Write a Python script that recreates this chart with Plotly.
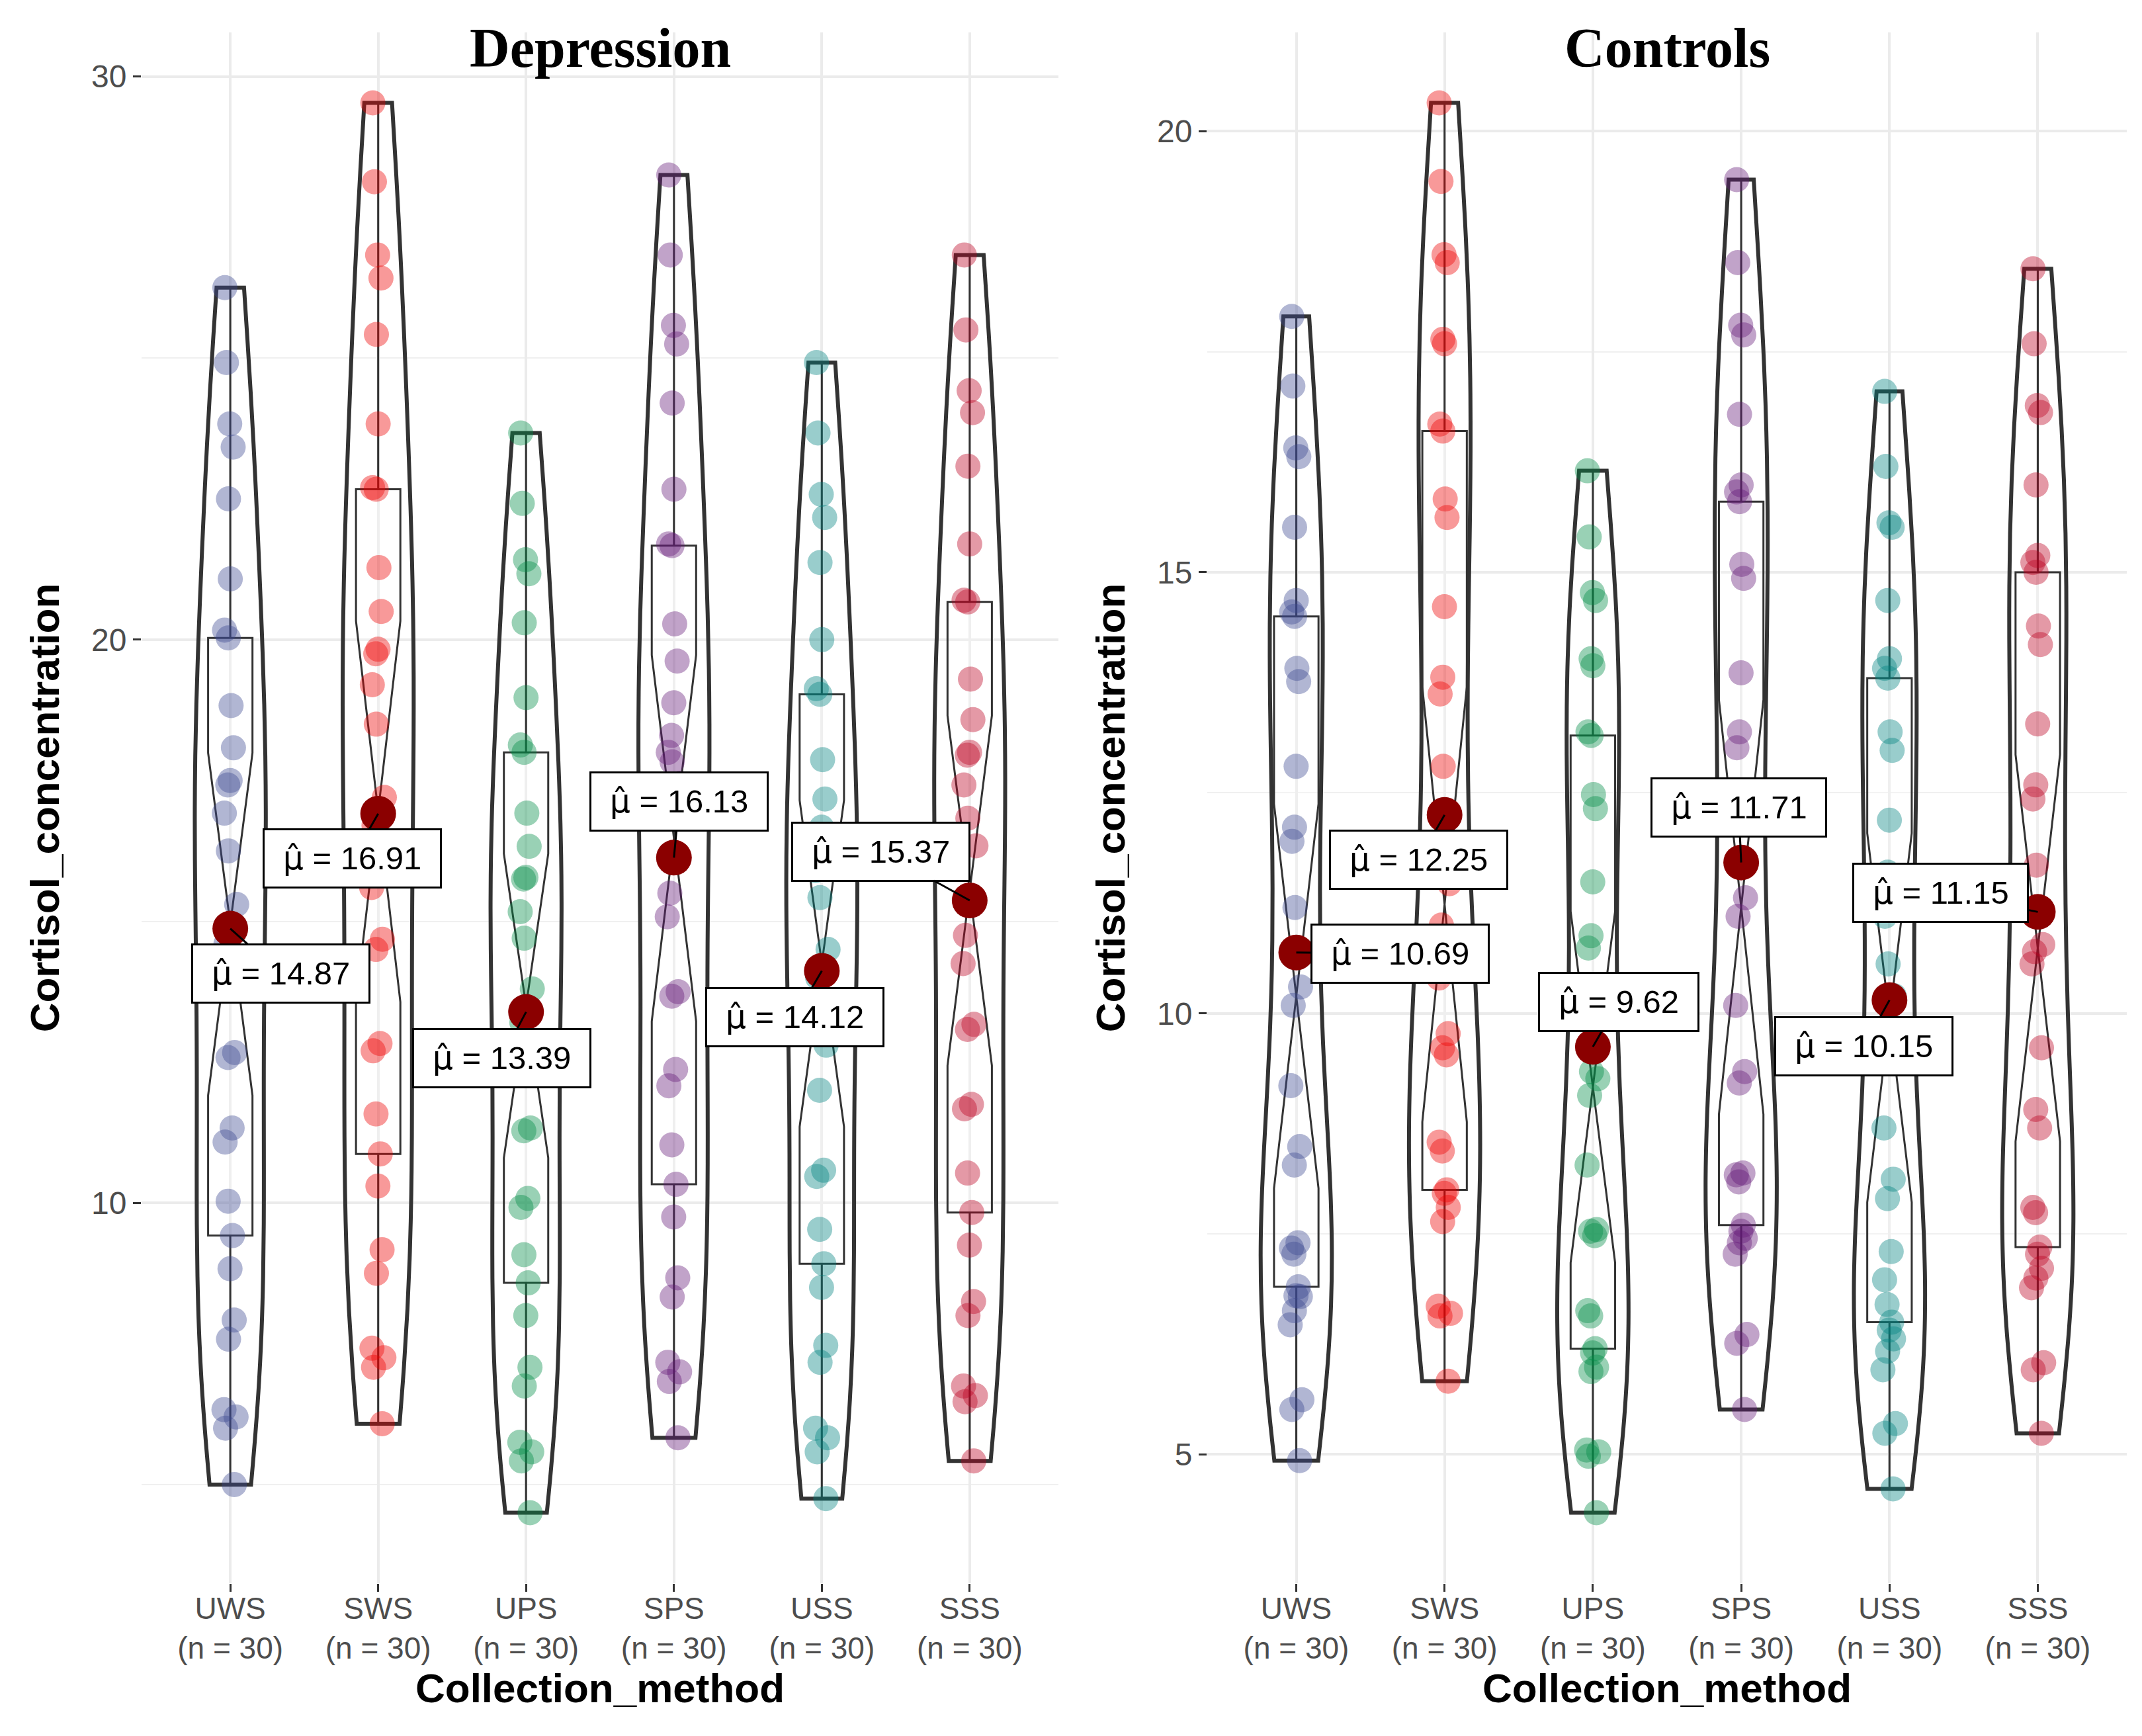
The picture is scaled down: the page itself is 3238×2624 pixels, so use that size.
import numpy as np
import plotly.graph_objects as go

# ---------------- data ----------------
categories = ["UWS", "SWS", "UPS", "SPS", "USS", "SSS"]
panel_titles = ["Depression", "Controls"]
x_title = "Collection_method"
y_title = "Cortisol_concentration"
colors = ["#3B4992", "#EE0000", "#008B45", "#631879", "#008280", "#BB0021"]

dep_uws = [26.25, 24.92, 23.83, 23.42, 22.5, 21.08, 20.17, 20.03, 18.83, 18.08,
           17.5, 17.42, 16.92, 16.25, 15.3, 14.6, 14.03, 12.67, 12.58, 11.33,
           11.08, 10.03, 9.42, 8.83, 7.92, 7.58, 6.33, 6.2, 6.0, 5.0]
dep_sws = [29.53, 28.13, 26.83, 26.42, 25.42, 23.83, 22.7, 22.67, 21.28, 20.5,
           19.83, 19.75, 19.2, 18.5, 17.2, 16.7, 15.6, 14.68, 14.5, 12.83,
           12.7, 11.58, 10.87, 10.3, 9.17, 8.75, 7.42, 7.25, 7.08, 6.08]
dep_ups = [23.67, 22.42, 21.42, 21.17, 20.3, 18.97, 18.13, 18.0, 16.92, 16.33,
           15.78, 15.75, 15.17, 14.7, 13.8, 13.2, 12.62, 11.33, 11.28, 10.08,
           9.92, 9.08, 8.58, 8.0, 7.08, 6.75, 5.75, 5.58, 5.42, 4.5]
dep_sps = [28.25, 26.83, 25.58, 25.25, 24.2, 22.67, 21.7, 21.67, 20.28, 19.62,
           18.88, 18.3, 18.0, 17.83, 17.45, 15.5, 15.08, 13.75, 13.67, 12.37,
           12.08, 11.03, 10.33, 9.75, 8.67, 8.33, 7.17, 7.0, 6.83, 5.83]
dep_uss = [24.92, 23.67, 22.58, 22.17, 21.37, 20.0, 19.13, 19.03, 17.87, 17.17,
           16.67, 16.2, 15.9, 15.42, 14.5, 14.0, 13.4, 12.8, 12.0, 10.58,
           10.47, 9.53, 8.92, 8.5, 7.47, 7.17, 6.0, 5.83, 5.58, 4.75]
dep_sss = [26.83, 25.5, 24.42, 24.03, 23.08, 21.7, 20.7, 20.67, 19.3, 18.58,
           18.0, 17.95, 17.42, 16.83, 16.34, 14.75, 14.25, 13.17, 13.08, 11.75,
           11.67, 10.53, 9.83, 9.25, 8.25, 8.0, 6.75, 6.58, 6.47, 5.42]

ctl_uws = [17.9, 17.11, 16.41, 16.31, 15.51, 14.68, 14.55, 14.5, 13.91, 13.76,
           12.8, 12.11, 11.95, 11.2, 10.3, 10.09, 9.18, 8.49, 8.28, 7.4,
           7.34, 7.27, 6.9, 6.8, 6.79, 6.63, 6.47, 5.62, 5.51, 4.93]
ctl_sws = [20.32, 19.43, 18.6, 18.51, 17.64, 17.59, 16.68, 16.6, 15.83, 15.62,
           14.61, 13.81, 13.62, 12.8, 11.47, 11.0, 10.4, 9.77, 9.61, 9.53,
           8.54, 8.44, 8.0, 7.96, 7.8, 7.64, 6.68, 6.6, 6.57, 5.83]
ctl_ups = [16.15, 15.4, 14.77, 14.68, 14.02, 13.94, 13.19, 13.15, 12.48, 12.32,
           11.49, 10.88, 10.74, 9.34, 9.26, 9.07, 8.28, 7.55, 7.53, 7.48,
           6.63, 6.57, 6.2, 6.15, 5.99, 5.94, 5.05, 5.03, 4.98, 4.34]
ctl_sps = [19.45, 18.51, 17.8, 17.69, 16.79, 15.99, 15.91, 15.8, 15.09, 14.93,
           13.86, 13.19, 13.01, 12.4, 11.31, 11.1, 10.09, 9.34, 9.21, 8.19,
           8.17, 8.09, 7.6, 7.53, 7.45, 7.4, 7.27, 6.36, 6.26, 5.51]
ctl_uss = [17.05, 16.2, 15.56, 15.51, 14.68, 14.02, 13.91, 13.8, 13.19, 12.98,
           12.19, 11.6, 11.1, 10.56, 10.2, 9.7, 8.7, 8.12, 7.9, 7.3,
           6.98, 6.7, 6.5, 6.41, 6.31, 6.17, 5.96, 5.35, 5.24, 4.61]
ctl_sss = [18.44, 17.59, 16.89, 16.81, 15.99, 15.19, 15.11, 15.0, 14.39, 14.18,
           13.28, 12.59, 12.43, 11.68, 10.78, 10.7, 10.56, 9.61, 8.91, 8.7,
           7.8, 7.74, 7.35, 7.27, 7.11, 7.0, 6.89, 6.04, 5.96, 5.24]

dep_means = [14.87, 16.91, 13.39, 16.13, 14.12, 15.37]
ctl_means = [10.69, 12.25, 9.62, 11.71, 10.15, 11.15]

# ---------------- styling / layout config ----------------
W, H = 3238, 2624
FONT = "Liberation Sans"
panels = [
    dict(groups=[dep_uws, dep_sws, dep_ups, dep_sps, dep_uss, dep_sss],
         means=dep_means, xa="x", ya="y", dtick=10, minor=5,
         xdom=[206 / W, 1592 / W],
         offsets=[(76, 68), (-39, 68), (-37, 70), (8, -85), (-41, 70), (-134, -74)]),
    dict(groups=[ctl_uws, ctl_sws, ctl_ups, ctl_sps, ctl_uss, ctl_sss],
         means=ctl_means, xa="x2", ya="y2", dtick=5, minor=2.5,
         xdom=[1817 / W, 3207 / W],
         offsets=[(157, 2), (-39, 68), (39, -68), (-4, -83), (-39, 70), (-147, -29)]),
]
ydom = [239 / H, 2583 / H]
MU_HAT = '<span style="font-family:DejaVu Sans">\u03bc\u0302</span>'

fig = go.Figure()
annotations = []

for pi, p in enumerate(panels):
    allv = np.concatenate([np.asarray(g, float) for g in p["groups"]])
    for gi, vals in enumerate(p["groups"]):
        v = np.asarray(vals, float)
        cat = categories[gi]
        q1, q3 = np.percentile(v, [25, 75])
        bw = 0.9 * min(v.std(ddof=1), (q3 - q1) / 1.34) * len(v) ** -0.2
        fig.add_trace(go.Violin(
            x=[cat] * len(v), y=v, xaxis=p["xa"], yaxis=p["ya"],
            width=0.48, scalemode="width", spanmode="hard", bandwidth=bw,
            points=False, fillcolor="rgba(255,255,255,0)",
            line=dict(color="#333333", width=6),
            hoverinfo="skip", showlegend=False))
        fig.add_trace(go.Box(
            x=[cat] * len(v), y=v, xaxis=p["xa"], yaxis=p["ya"],
            notched=True, notchwidth=0.5, width=0.3, whiskerwidth=0,
            boxpoints="all", jitter=0.35, pointpos=0,
            fillcolor="rgba(255,255,255,0.2)",
            line=dict(color="#333333", width=3),
            marker=dict(color=colors[gi], opacity=0.4, size=38, line=dict(width=0)),
            showlegend=False))
    fig.add_trace(go.Scatter(
        x=categories, y=p["means"], xaxis=p["xa"], yaxis=p["ya"], mode="markers",
        marker=dict(color="#8B0000", size=54, line=dict(width=0)), showlegend=False))
    for gi, m in enumerate(p["means"]):
        ax, ay = p["offsets"][gi]
        annotations.append(dict(
            x=categories[gi], y=m, xref=p["xa"], yref=p["ya"],
            text=f"\u00a0{MU_HAT} = {m:.2f}\u00a0", showarrow=True, arrowhead=0,
            arrowwidth=3, arrowcolor="black", standoff=0, ax=ax, ay=ay,
            bgcolor="white", bordercolor="black", borderwidth=3, borderpad=14,
            font=dict(family=FONT, size=49, color="black")))
    annotations.append(dict(
        x=sum(p["xdom"]) / 2, y=1 - 64 / H, xref="paper", yref="paper",
        text=panel_titles[pi], showarrow=False, xanchor="center", yanchor="middle",
        font=dict(family="Liberation Serif", size=84, color="black", weight="bold")))

    lo, hi = allv.min(), allv.max()
    pad = 0.05 * (hi - lo)
    n_labels = [f"{c}<br>(n = {len(g)})" for c, g in zip(categories, p["groups"])]
    xkey = "xaxis" if pi == 0 else "xaxis2"
    ykey = "yaxis" if pi == 0 else "yaxis2"
    fig.update_layout(**{
        xkey: dict(domain=p["xdom"], anchor=p["ya"], type="category",
                   categoryorder="array", categoryarray=categories,
                   range=[-0.6, len(categories) - 0.4],
                   tickvals=categories, ticktext=n_labels,
                   tickfont=dict(family=FONT, size=46, color="#4D4D4D"),
                   ticks="outside", ticklen=12, tickwidth=3, tickcolor="#333333",
                   ticklabelstandoff=-14,
                   showgrid=True, gridcolor="#EBEBEB", gridwidth=4,
                   zeroline=False, showline=False,
                   title=dict(text=x_title, standoff=10,
                              font=dict(family=FONT, size=62, color="black", weight="bold"))),
        ykey: dict(domain=ydom, anchor=p["xa"], range=[lo - pad, hi + pad],
                   tickmode="linear", tick0=0, dtick=p["dtick"],
                   tickfont=dict(family=FONT, size=48, color="#4D4D4D"),
                   ticks="outside", ticklen=12, tickwidth=3, tickcolor="#333333",
                   showgrid=True, gridcolor="#EBEBEB", gridwidth=4,
                   minor=dict(dtick=p["minor"], tick0=0, showgrid=True,
                              gridcolor="#F0F0F0", gridwidth=2),
                   zeroline=False, showline=False,
                   title=dict(text=y_title, standoff=28,
                              font=dict(family=FONT, size=62, color="black", weight="bold"))),
    })

fig.update_layout(
    width=W, height=H, margin=dict(l=0, r=0, t=0, b=0),
    paper_bgcolor="white", plot_bgcolor="white",
    violinmode="overlay", boxmode="overlay",
    font=dict(family=FONT), annotations=annotations, showlegend=False)

fig.write_html("out.html")
